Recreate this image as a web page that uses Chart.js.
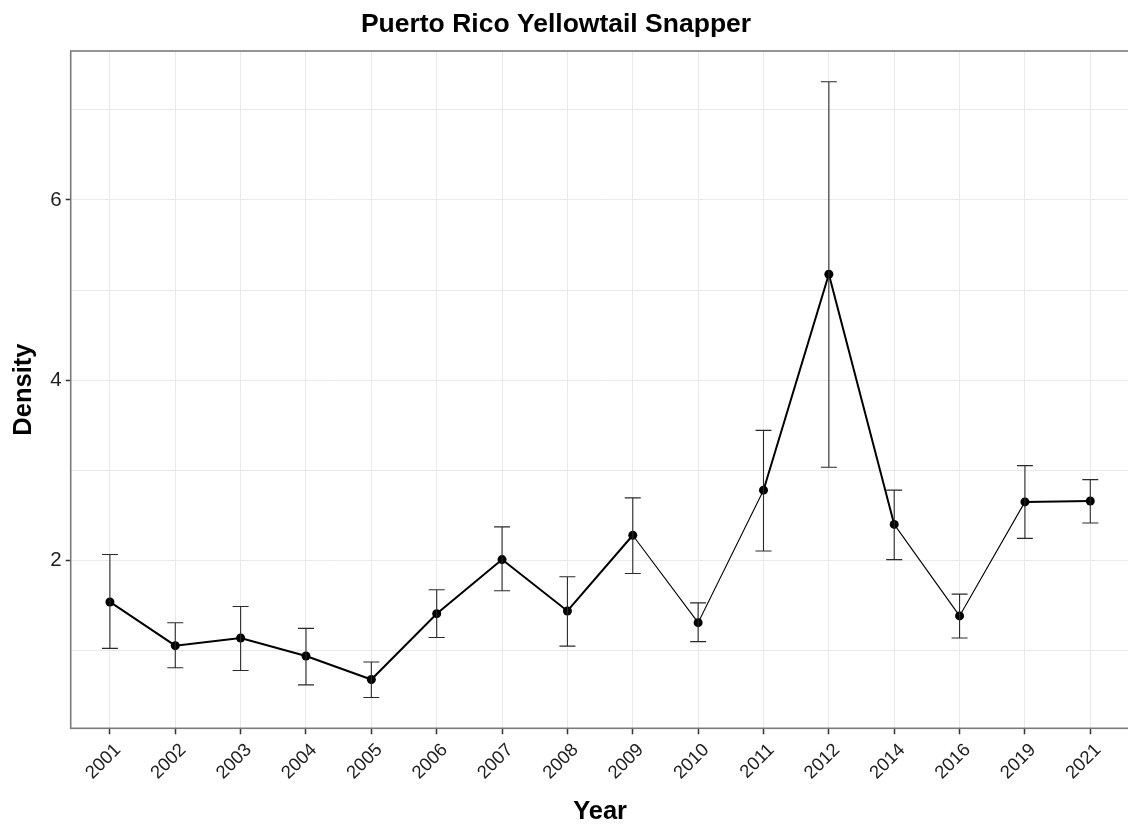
<!DOCTYPE html>
<html>
<head>
<meta charset="utf-8">
<title>Puerto Rico Yellowtail Snapper</title>
<script src="https://cdn.jsdelivr.net/npm/chart.js@4.4.1/dist/chart.umd.min.js"></script>
<style>
  html, body { margin: 0; padding: 0; background: #ffffff; overflow: hidden; }
  canvas { display: block; }
</style>
</head>
<body>
<canvas id="chart" width="1134" height="828"></canvas>
<script>
// Survey years (discrete categories on the x axis)
const years = ['2001', '2002', '2003', '2004', '2005', '2006', '2007', '2008',
               '2009', '2010', '2011', '2012', '2014', '2016', '2019', '2021'];

// Mean density per year
const density = [1.54, 1.055, 1.14, 0.94, 0.68, 1.41, 2.01, 1.44,
                 2.28, 1.31, 2.78, 5.175, 2.40, 1.385, 2.65, 2.66];

// Error bar limits
const lower = [1.025, 0.81, 0.78, 0.62, 0.48, 1.145, 1.665, 1.05,
               1.855, 1.10, 2.105, 3.035, 2.01, 1.14, 2.245, 2.415];
const upper = [2.066, 1.31, 1.49, 1.247, 0.874, 1.675, 2.373, 1.82,
               2.695, 1.53, 3.443, 7.31, 2.78, 1.627, 3.052, 2.897];

// Y tick values (labelled ones are the even values)
const yTicks = [1, 2, 3, 4, 5, 6, 7];
const yLabelled = [2, 4, 6];

// Years whose connecting segments are drawn with the lighter stroke
const lightYears = ['2010', '2016'];

const FONT = "'Liberation Sans', Arial, Helvetica, sans-serif";

// Range with 5% expansion around the error bars, discrete axis with 0.6 padding
const lo = Math.min(...lower), hi = Math.max(...upper);
const padY = (hi - lo) * 0.05;

const points = years.map((y, i) => ({ x: i, y: density[i] }));

const errorBars = {
  id: 'errorBars',
  afterDatasetsDraw(chart) {
    const { ctx, scales: { x, y } } = chart;
    ctx.save();
    ctx.strokeStyle = '#2a2a2a';
    ctx.lineWidth = 1.1;
    const cap = 8;
    years.forEach((_, i) => {
      const px = x.getPixelForValue(i);
      const pLo = y.getPixelForValue(lower[i]);
      const pHi = y.getPixelForValue(upper[i]);
      ctx.beginPath();
      ctx.moveTo(px, pLo); ctx.lineTo(px, pHi);
      ctx.moveTo(px - cap, pHi); ctx.lineTo(px + cap, pHi);
      ctx.moveTo(px - cap, pLo); ctx.lineTo(px + cap, pLo);
      ctx.stroke();
    });
    ctx.restore();
  }
};

const panelFrame = {
  id: 'panelFrame',
  afterDraw(chart) {
    const { ctx, chartArea: a } = chart;
    ctx.save();
    ctx.strokeStyle = '#7a7a7a';
    ctx.lineWidth = 1.6;
    ctx.strokeRect(a.left, a.top, a.right - a.left, a.bottom - a.top);
    ctx.restore();
  }
};

const plotTitle = {
  id: 'plotTitle',
  afterDraw(chart) {
    const ctx = chart.ctx;
    ctx.save();
    ctx.fillStyle = '#000000';
    ctx.font = "bold 26.5px " + FONT;
    ctx.textAlign = 'center';
    ctx.textBaseline = 'alphabetic';
    ctx.fillText('Puerto Rico Yellowtail Snapper', 556, 32);
    ctx.restore();
  }
};

new Chart(document.getElementById('chart'), {
  type: 'line',
  data: {
    datasets: [{
      data: points,
      borderColor: '#000000',
      backgroundColor: '#000000',
      borderWidth: 2,
      pointRadius: 4.5,
      pointHoverRadius: 4.5,
      pointBorderWidth: 0,
      tension: 0,
      segment: {
        borderWidth: c => (lightYears.includes(years[c.p0DataIndex]) ||
                           lightYears.includes(years[c.p1DataIndex])) ? 1.1 : 2
      }
    }]
  },
  options: {
    responsive: false,
    animation: false,
    layout: { padding: { top: 51, right: 1.4, left: 0, bottom: 0 } },
    plugins: {
      legend: { display: false },
      tooltip: { enabled: false },
      title: { display: false }
    },
    scales: {
      x: {
        type: 'linear',
        min: -0.6,
        max: years.length - 1 + 0.6,
        afterBuildTicks: s => { s.ticks = years.map((_, i) => ({ value: i })); },
        afterFit: s => { s.height = 99.7; },
        grid: {
          color: '#e9e9e9',
          lineWidth: 1,
          tickColor: '#333333',
          tickLength: 6,
          tickWidth: 1.5
        },
        border: { display: false },
        ticks: {
          autoSkip: false,
          minRotation: 45,
          maxRotation: 45,
          padding: 5,
          labelOffset: 8,
          color: '#1e1e1e',
          font: { family: FONT, size: 18.5 },
          callback: v => years[v]
        },
        title: {
          display: true,
          text: 'Year',
          color: '#000000',
          font: { family: FONT, size: 25.5, weight: 'bold' },
          padding: { top: 0, bottom: 1 }
        }
      },
      y: {
        min: lo - padY,
        max: hi + padY,
        afterBuildTicks: s => { s.ticks = yTicks.map(v => ({ value: v })); },
        afterFit: s => { s.width = 70.7; },
        grid: {
          color: '#e9e9e9',
          lineWidth: 1,
          tickColor: c => yLabelled.includes(c.tick && c.tick.value) ? '#333333' : 'rgba(0,0,0,0)',
          tickLength: 5,
          tickWidth: 1.5
        },
        border: { display: false },
        ticks: {
          padding: 4,
          color: '#1e1e1e',
          font: { family: FONT, size: 20.5 },
          callback: v => yLabelled.includes(v) ? String(v) : ''
        },
        title: {
          display: true,
          text: 'Density',
          color: '#000000',
          font: { family: FONT, size: 25.5, weight: 'bold' },
          padding: { top: 9, bottom: 0 }
        }
      }
    }
  },
  plugins: [errorBars, panelFrame, plotTitle]
});
</script>
</body>
</html>
